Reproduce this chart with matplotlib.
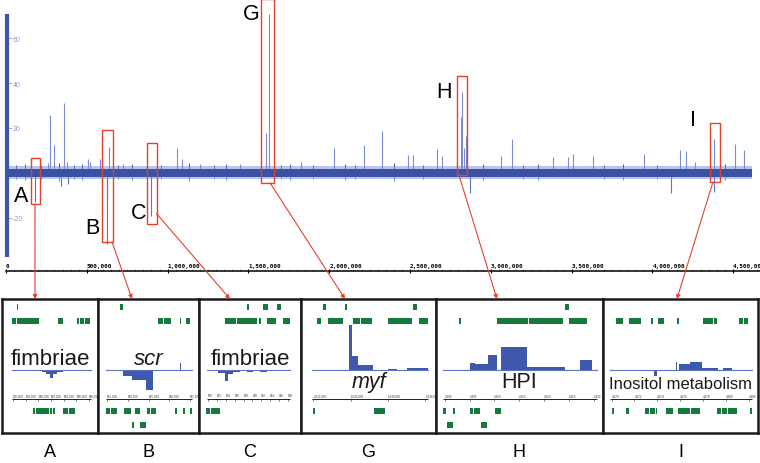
import numpy as np
import matplotlib
matplotlib.use('Agg')
import matplotlib.pyplot as plt
from matplotlib.patches import Rectangle, ConnectionPatch

plt.rcParams['font.family'] = ['Liberation Sans', 'DejaVu Sans']

W, H = 760, 464
RED = '#e5422d'
GREEN = '#14793a'
BLUE = '#3a52a6'
LIGHT = '#7a8dd0'

# ---- genome-wide track (position in bp, relative signal) ----
track_end = 4_615_000
spike_pos = [259e3, 272e3, 299e3, 359e3, 377e3, 508e3, 520e3, 582e3, 637e3, 724e3,
             1_058e3, 1_089e3, 1_200e3, 1_448e3, 1_607e3, 1_627e3, 1_824e3, 2_030e3,
             2_215e3, 2_327e3, 2_488e3, 2_519e3, 2_667e3, 2_698e3, 2_816e3, 2_822e3,
             2_834e3, 2_847e3, 3_063e3, 3_131e3, 3_385e3, 3_478e3, 3_509e3, 3_632e3,
             3_948e3, 4_171e3, 4_208e3, 4_264e3, 4_381e3, 4_511e3, 4_567e3]
spike_val = [4.5, 26, 12.4, 31, 5, 6, 5, 6, 11.5, 4,
             11, 6, 4, 4, 17.8, 70.5, 5, 11,
             12.6, 18.5, 8, 8, 10.7, 7.5, 25, 36,
             11, 16.4, 7.6, 15, 7, 7, 8.4, 7.6,
             8.4, 10.4, 9.9, 5, 15, 12.9, 10.2]
small_pos = [60e3, 120e3, 215e3, 330e3, 420e3, 470e3, 690e3, 780e3, 960e3, 1_130e3,
             1_290e3, 1_360e3, 1_700e3, 1_760e3, 1_900e3, 2_100e3, 2_160e3, 2_400e3,
             2_580e3, 2_950e3, 3_200e3, 3_290e3, 3_700e3, 3_820e3, 4_030e3, 4_450e3]
small_val = [3.5, 4, 3.5, 4.5, 3.5, 4, 3.5, 4, 3.5, 4.5,
             3.5, 4, 3.5, 4, 3.5, 4, 3.5, 4.5,
             3.5, 4, 3.5, 4, 3.5, 4, 3.5, 4]
dip_pos = [179e3, 340e3, 384e3, 623e3, 625e3, 897e3, 2_871e3, 4_115e3, 4_381e3]
dip_val = [-13, -6, -5, -11.6, -31.5, -19, -9, -8.9, -8.6]

y_ticks = [-20, 0, 20, 40, 60]
x_ticks = [0, 500_000, 1_000_000, 1_500_000, 2_000_000, 2_500_000,
           3_000_000, 3_500_000, 4_000_000, 4_500_000]
x_ticklabels = ['0', '500,000', '1,000,000', '1,500,000', '2,000,000', '2,500,000',
                '3,000,000', '3,500,000', '4,000,000', '4,500,000']

# highlighted regions: (start bp, end bp, low, high)
box_names = ['A', 'B', 'C', 'G', 'H', 'I']
box_start = [155e3, 594e3, 873e3, 1_578e3, 2_791e3, 4_356e3]
box_end = [210e3, 662e3, 934e3, 1_658e3, 2_853e3, 4_418e3]
box_low = [-13.8, -30.7, -22.7, -4.4, -0.9, -4.0]
box_high = [6.7, 19.1, 13.3, 77.3, 43.1, 22.2]

# ---- zoomed panels (positions in % of panel width, coverage relative) ----
panel_labels = ['fimbriae', 'scr', 'fimbriae', 'myf', 'HPI', 'Inositol metabolism']

genes_A_top = [(15.5, 16.5), (92.2, 93.2)]
genes_A_mid = [(10.4, 15.1), (15.6, 19.8), (20.3, 25.0), (25.5, 30.2), (30.7, 34.9),
               (35.9, 38.5), (58.3, 63.5), (78.1, 80.2), (81.3, 85.9), (86.5, 91.7)]
genes_A_bot1 = [(32.3, 33.9), (35.4, 44.8), (45.3, 49.0), (50.0, 52.1), (53.6, 55.2),
                (63.5, 68.8), (69.3, 76.0)]
genes_A_bot2 = []
cov_A_edges = [30, 42, 45.8, 50, 53.1, 57.3, 64, 76, 84]
cov_A_vals = [-0.5, -1.5, -3.5, -7.5, -4, -1.5, -0.5, -1]

genes_B_top = [(21.8, 24.8)]
genes_B_mid = [(59.4, 64.4), (64.9, 72.3), (80.7, 82.2), (87.1, 90.6)]
genes_B_bot1 = [(7.9, 11.9), (12.4, 18.8), (25.7, 28.7), (29.2, 32.7), (36.6, 41.6),
                (48.5, 51.5), (52.0, 57.4), (76.2, 78.2), (84.2, 86.1), (91.1, 93.1)]
genes_B_bot2 = [(33.2, 35.6), (41.6, 47.5)]
cov_B_edges = [15, 25.0, 33.3, 47.2, 54.8, 81.2, 82.2]
cov_B_vals = [-1, -5.7, -10, -20, -0.5, 6.7]

genes_C_top = [(47.1, 49.0), (62.7, 67.2), (76.5, 80.4)]
genes_C_mid = [(25.5, 36.3), (36.8, 47.1), (47.5, 56.9), (58.8, 60.8), (66.2, 75.5),
               (81.9, 89.2)]
genes_C_bot1 = [(6.9, 10.8), (11.3, 20.6)]
genes_C_bot2 = []
cov_C_edges = [18.9, 25.5, 28.7, 33.6, 40.2, 47.1, 52.9, 59.8, 66.7]
cov_C_vals = [-3.3, -10.7, -4, -2, -0.5, -1.5, -0.5, -2]

genes_G_top = [(16.3, 18.5), (32.6, 34.1), (83.0, 85.9)]
genes_G_mid = [(11.9, 14.8), (20.0, 24.4), (24.8, 28.1), (28.5, 31.1), (38.5, 43.7),
               (44.1, 52.6), (64.4, 70.4), (70.7, 75.6), (75.9, 82.2), (87.4, 94.1)]
genes_G_bot1 = [(8.9, 10.0), (54.1, 57.8), (58.1, 62.2)]
genes_G_bot2 = []
cov_G_edges = [35.6, 38.0, 42.4, 53.1, 59.8, 64.7, 70.9, 78.3, 94.1]
cov_G_vals = [45, 14.3, 5, 0.5, -0.5, 1, 0, 2.3]

genes_H_top = [(77.2, 79.6)]
genes_H_mid = [(13.8, 15.0), (36.5, 48.5), (48.8, 55.1), (55.4, 76.0), (79.6, 83.2),
               (83.5, 86.8), (87.1, 90.4)]
genes_H_bot1 = [(4.2, 6.0), (10.2, 11.4), (20.4, 22.2), (22.5, 26.3), (35.3, 38.9)]
genes_H_bot2 = [(6.6, 10.2), (26.9, 30.5)]
cov_H_edges = [20.4, 23.4, 31.3, 36.3, 38.7, 54.3, 77.2, 86.2, 93.2]
cov_H_vals = [7, 6, 15.3, 0.5, 22.7, 2.7, 0, 10]

genes_I_top = []
genes_I_mid = [(8.4, 10.6), (10.6, 12.9), (16.8, 20.0), (20.3, 24.5), (31.0, 32.3),
               (35.5, 39.4), (47.7, 49.0), (64.5, 68.4), (68.7, 71.0), (71.3, 73.5),
               (87.7, 90.3), (91.0, 93.5)]
genes_I_bot1 = [(5.8, 6.8), (14.8, 16.5), (27.1, 29.7), (30.0, 33.5), (34.2, 34.8),
                (40.6, 42.6), (42.9, 45.2), (48.4, 50.3), (50.6, 56.1), (56.5, 62.6),
                (73.5, 76.1), (76.5, 80.0), (80.6, 86.5), (94.8, 96.1)]
genes_I_bot2 = []
cov_I_edges = [32.9, 35.0, 47.1, 47.7, 49.2, 56.1, 63.7, 74.4, 77.2, 83.0]
cov_I_vals = [-5.7, 0, 8.3, 0.5, 5.7, 8.3, 1.7, 0.5, 2.3]

scale_A = ['176,000', '178,000', '180,000', '182,000', '184,000', '186,000', '188,000']
scale_B = ['615,000', '620,000', '625,000', '630,000', '635,000']
scale_C = ['890', '892', '894', '896', '898', '900', '902', '904', '906', '908']
scale_G = ['1,622,000', '1,626,000', '1,630,000', '1,634,000']
scale_H = ['2,800', '2,805', '2,810', '2,815', '2,820', '2,825', '2,830']
scale_I = ['4,370', '4,372', '4,374', '4,376', '4,378', '4,380', '4,382']


def px_axes(fig, x0, y0, x1, y1):
    return fig.add_axes([x0 / W, 1 - y1 / H, (x1 - x0) / W, (y1 - y0) / H])


fig = plt.figure(figsize=(W / 100, H / 100), dpi=100)

# main track
ax = px_axes(fig, 6, 15, 760, 272)
ax.set_xlim(0, 4_666_000)
ax.set_ylim(-43.6, 70.7)
for s in ['left', 'right', 'top']:
    ax.spines[s].set_visible(False)
ax.spines['bottom'].set_linewidth(1.1)

ax.fill_between([0, track_end], -2.9, 2.9, color=LIGHT, alpha=0.5, lw=0, zorder=2)
ax.fill_between([0, track_end], -1.6, 1.6, color=BLUE, lw=0, zorder=3)
ax.vlines(spike_pos, 0, spike_val, color=LIGHT, lw=0.8, zorder=1)
ax.vlines(small_pos, 0, small_val, color=BLUE, lw=0.7, zorder=1)
ax.vlines(small_pos, 0, [-v * 0.8 for v in small_val], color=LIGHT, lw=0.7, zorder=1)
ax.vlines(dip_pos, 0, dip_val, color='#5f76c0', lw=0.8, zorder=1)
ax.plot([6e3, 6e3], [-37.3, 70.7], color='#3d57a8', lw=3, solid_capstyle='butt',
        zorder=6, clip_on=False)

ax.set_yticks(y_ticks)
ax.set_yticklabels([str(v) for v in y_ticks])
ax.tick_params(axis='y', direction='in', length=4.5, width=0.6, pad=-5,
               labelsize=5, colors='#8a9bd6')
for lab in ax.get_yticklabels():
    lab.set_horizontalalignment('left')

ax.set_xticks(x_ticks)
ax.set_xticklabels(x_ticklabels)
ax.set_xticks(np.arange(0, 4_666_000, 50_000), minor=True)
ax.tick_params(axis='x', which='major', direction='inout', length=3, width=0.8,
               pad=-7)
ax.tick_params(axis='x', which='minor', direction='in', length=1.2, width=0.5,
               color='#777777')
for lab in ax.get_xticklabels():
    lab.set_horizontalalignment('left')
    lab.set_fontfamily('DejaVu Sans Mono')
    lab.set_fontweight('bold')
    lab.set_fontsize(4.3)

letter_pos = [93e3, 532e3, 823e3, 1_516e3, 2_710e3, 4_251e3]
letter_val = [-10.2, -24.4, -17.8, 71.1, 36.4, 24]
for i, name in enumerate(box_names):
    ax.add_patch(Rectangle((box_start[i], box_low[i]), box_end[i] - box_start[i],
                           box_high[i] - box_low[i], fill=False, ec=RED, lw=1,
                           zorder=7, clip_on=False))
    ax.text(letter_pos[i], letter_val[i], name, ha='center', va='center',
            fontsize=15.5, clip_on=False, zorder=8)

# zoom panels
panel_px = [(2, 98), (98, 199), (199, 301), (301, 436), (436, 603), (603, 758)]
panel_data = {
    'A': (genes_A_top, genes_A_mid, genes_A_bot1, genes_A_bot2, cov_A_edges, cov_A_vals,
          (10.4, 92.7), scale_A),
    'B': (genes_B_top, genes_B_mid, genes_B_bot1, genes_B_bot2, cov_B_edges, cov_B_vals,
          (7.9, 93.1), scale_B),
    'C': (genes_C_top, genes_C_mid, genes_C_bot1, genes_C_bot2, cov_C_edges, cov_C_vals,
          (7.8, 89.2), scale_C),
    'G': (genes_G_top, genes_G_mid, genes_G_bot1, genes_G_bot2, cov_G_edges, cov_G_vals,
          (8.1, 94.1), scale_G),
    'H': (genes_H_top, genes_H_mid, genes_H_bot1, genes_H_bot2, cov_H_edges, cov_H_vals,
          (4.2, 96.4), scale_H),
    'I': (genes_I_top, genes_I_mid, genes_I_bot1, genes_I_bot2, cov_I_edges, cov_I_vals,
          (4.5, 96.1), scale_I),
}
label_y = [69, 69, 69, 46, 46, 45]
label_size = [16, 16, 16, 15.5, 15.5, 12]
label_style = ['normal', 'italic', 'normal', 'italic', 'normal', 'normal']
arrow_start = [(179e3, -13.8), (656e3, -30.7), (931e3, -18), (1_634e3, -4.4),
               (2_803e3, -0.9), (4_375e3, -4.0)]
arrow_end_x = [34.4, 33.7, 30.4, 32.6, 36.5, 47.7]

ROWS = [126, 112, 22, 8]
COV_Y = 63
SCALE_Y = 34

for i, name in enumerate(box_names):
    x0, x1 = panel_px[i]
    pax = px_axes(fig, x0, 300, x1, 434)
    pax.set_xlim(0, 100)
    pax.set_ylim(0, 134)
    pax.set_xticks([])
    pax.set_yticks([])
    for s in pax.spines.values():
        s.set_linewidth(1.8)
        s.set_color('#1c1c1c')
    top, mid, bot1, bot2, edges, vals, span, scale = panel_data[name]
    for row, genes in zip(ROWS, [top, mid, bot1, bot2]):
        if genes:
            pax.broken_barh([(a, b - a) for a, b in genes], (row - 3, 6),
                            facecolors=GREEN)
    pax.plot(span, [COV_Y, COV_Y], color='#5b72c2', lw=0.8)
    pax.stairs(np.array(vals) + COV_Y, edges, baseline=COV_Y, fill=True,
               color='#3e58ae')
    pax.hlines(SCALE_Y, span[0], span[1], color='#222222', lw=0.7)
    tpos = np.linspace(span[0] + 1, span[1] - 2, len(scale))
    pax.vlines(tpos, SCALE_Y - 1.5, SCALE_Y + 0.5, color='#222222', lw=0.4)
    for tp, tl in zip(tpos, scale):
        pax.text(tp, SCALE_Y + 1.5, tl, fontsize=2.2, ha='left', va='bottom',
                 color='#333333')
    pax.text(50, label_y[i], panel_labels[i], ha='center', va='baseline',
             fontsize=label_size[i], style=label_style[i], color='#1a1a1a')
    pax.text(50, -19, name, ha='center', va='center', fontsize=13, clip_on=False)

    con = ConnectionPatch(xyA=arrow_start[i], coordsA=ax.transData,
                          xyB=(arrow_end_x[i], 134), coordsB=pax.transData,
                          arrowstyle='-|>', mutation_scale=6, color=RED, lw=0.8,
                          shrinkA=0, shrinkB=0, zorder=10)
    fig.add_artist(con)

fig.savefig('out.png', dpi=100)
